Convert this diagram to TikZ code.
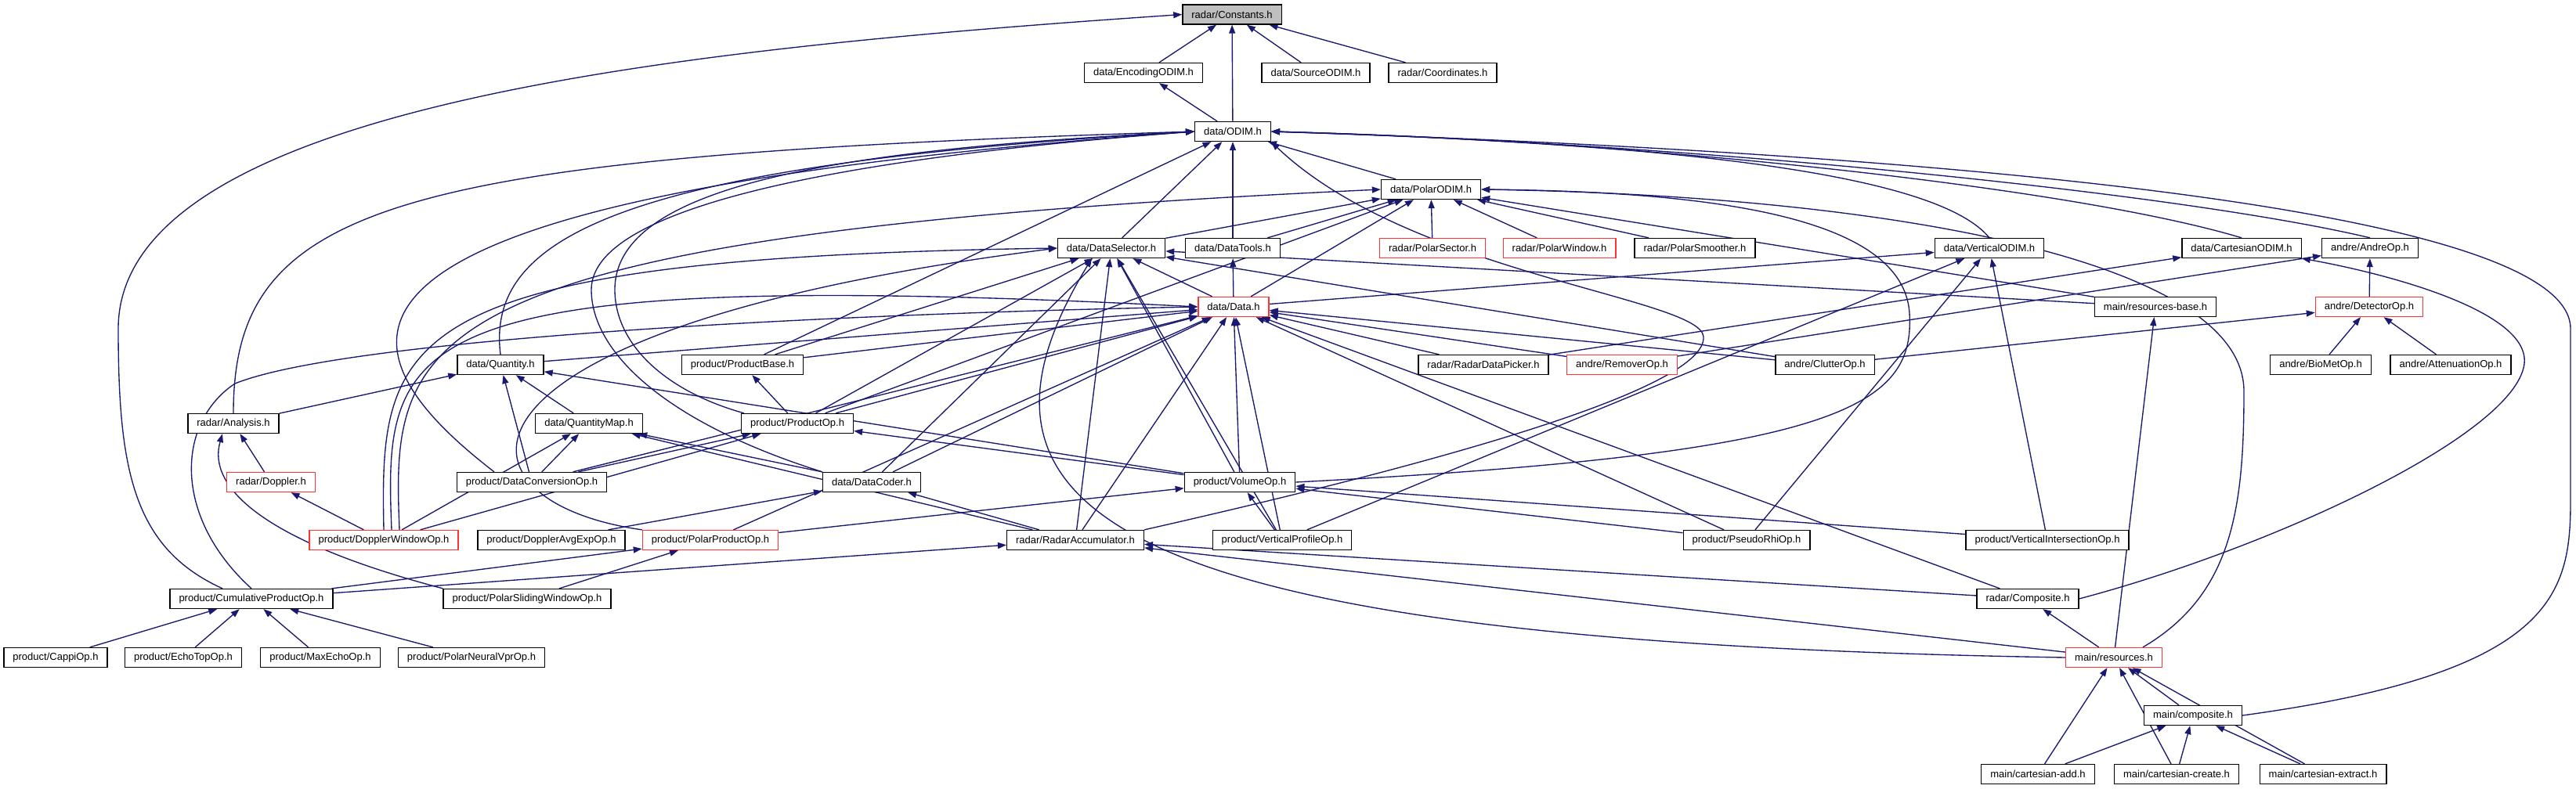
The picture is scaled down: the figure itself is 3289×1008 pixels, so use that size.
\documentclass[tikz,border=0pt]{standalone}
\usepackage{fontspec}
\setmainfont{Liberation Sans}
\usetikzlibrary{arrows.meta, backgrounds}
\definecolor{EdgeBlue}{rgb}{0.1, 0.1, 0.44}
\definecolor{NodeRed}{rgb}{1, 0.2, 0.2}
\definecolor{RootGrey}{rgb}{0.75, 0.75, 0.75}

\begin{document}
\begin{tikzpicture}[
    x=1pt, y=-1pt,
    font=\fontsize{13}{15}\selectfont,
    hdr/.style={draw=black, line width=1.3pt, fill=white, minimum height=25pt,
        inner xsep=11.5pt, inner ysep=0pt},
    hdrred/.style={hdr, draw=NodeRed},
    hdrroot/.style={hdr, fill=RootGrey},
    dep/.style={-{Triangle[length=11pt, width=8pt]}, line width=1.35pt, EdgeBlue},
]
\useasboundingbox (0,0) rectangle (3289,1008);

% --- rangos 0-2 ---
\node[hdrroot] (constants) at (1573,18.5) {radar/Constants.h};
\node[hdr] (encodingodim) at (1460,93) {data/EncodingODIM.h};
\node[hdr] (sourceodim) at (1680,93) {data/SourceODIM.h};
\node[hdr] (coordinates) at (1842,93) {radar/Coordinates.h};
\node[hdr] (odim) at (1574,168) {data/ODIM.h};

% --- rangos 3-5 ---
\node[hdr] (polarodim) at (1827,242) {data/PolarODIM.h};
\node[hdr] (dataselector) at (1419,317) {data/DataSelector.h};
\node[hdr] (datatools) at (1574,317) {data/DataTools.h};
\node[hdrred] (polarsector) at (1829,317) {radar/PolarSector.h};
\node[hdrred] (polarwindow) at (1991,317) {radar/PolarWindow.h};
\node[hdr] (polarsmoother) at (2164,317) {radar/PolarSmoother.h};
\node[hdr] (verticalodim) at (2540,317) {data/VerticalODIM.h};
\node[hdr] (cartesianodim) at (2862,317) {data/CartesianODIM.h};
\node[hdr] (andreop) at (3026,317) {andre/AndreOp.h};
\node[hdrred] (data) at (1575,392) {data/Data.h};
\node[hdr] (resourcesbase) at (2752,392) {main/resources-base.h};
\node[hdrred] (detectorop) at (3025,392) {andre/DetectorOp.h};

% --- rangos 6-8 ---
\node[hdr] (quantity) at (639,466) {data/Quantity.h};
\node[hdr] (productbase) at (948,466) {product/ProductBase.h};
\node[hdr] (radardatapicker) at (1894,466) {radar/RadarDataPicker.h};
\node[hdrred] (removerop) at (2071,466) {andre/RemoverOp.h};
\node[hdr] (clutterop) at (2330,466) {andre/ClutterOp.h};
\node[hdr] (biometop) at (2963,466) {andre/BioMetOp.h};
\node[hdr] (attenuationop) at (3129,466) {andre/AttenuationOp.h};
\node[hdr] (analysis) at (298,541) {radar/Analysis.h};
\node[hdr] (quantitymap) at (752,541) {data/QuantityMap.h};
\node[hdr] (productop) at (1018,541) {product/ProductOp.h};
\node[hdrred] (doppler) at (346,616) {radar/Doppler.h};
\node[hdr] (dataconversionop) at (679,616) {product/DataConversionOp.h};
\node[hdr] (datacoder) at (1113,616) {data/DataCoder.h};
\node[hdr] (volumeop) at (1583,616) {product/VolumeOp.h};

% --- rangos 9-10 ---
\node[hdrred] (dopplerwindowop) at (490,690) {product/DopplerWindowOp.h};
\node[hdr] (doppleravgexpop) at (704,690) {product/DopplerAvgExpOp.h};
\node[hdrred] (polarproductop) at (907,690) {product/PolarProductOp.h};
\node[hdr] (radaraccumulator) at (1373,690) {radar/RadarAccumulator.h};
\node[hdr] (verticalprofileop) at (1637,690) {product/VerticalProfileOp.h};
\node[hdr] (pseudorhiop) at (2230,690) {product/PseudoRhiOp.h};
\node[hdr] (verticalintersectionop) at (2614,690) {product/VerticalIntersectionOp.h};
\node[hdr] (cumulativeproductop) at (321,765) {product/CumulativeProductOp.h};
\node[hdr] (polarslidingwindowop) at (673,765) {product/PolarSlidingWindowOp.h};
\node[hdr] (composite) at (2589,765) {radar/Composite.h};

% --- rangos 11-13 ---
\node[hdr] (cappiop) at (71,840) {product/CappiOp.h};
\node[hdr] (echotopop) at (234,840) {product/EchoTopOp.h};
\node[hdr] (maxechoop) at (409,840) {product/MaxEchoOp.h};
\node[hdr] (polarneuralvprop) at (602,840) {product/PolarNeuralVprOp.h};
\node[hdrred] (resources) at (2699,840) {main/resources.h};
\node[hdr] (maincomposite) at (2800,914) {main/composite.h};
\node[hdr] (cartesianadd) at (2602,989) {main/cartesian-add.h};
\node[hdr] (cartesiancreate) at (2779,989) {main/cartesian-create.h};
\node[hdr] (cartesianextract) at (2966,989) {main/cartesian-extract.h};

\begin{pgfonlayer}{background}
% includes directos
\foreach \a/\b in {encodingodim/constants, sourceodim/constants, coordinates/constants,
    odim/constants, odim/encodingodim, polarodim/odim, dataselector/odim,
    dataselector/polarodim, datatools/odim, datatools/polarodim, polarsector/polarodim,
    polarwindow/polarodim, polarsmoother/polarodim,
    data/dataselector, data/datatools, data/polarodim, data/verticalodim,
    resourcesbase/polarodim, resourcesbase/dataselector, detectorop/andreop,
    quantity/data, productbase/odim, productbase/dataselector, productbase/data,
    radardatapicker/data, radardatapicker/cartesianodim, removerop/data, removerop/andreop,
    clutterop/data, clutterop/dataselector, clutterop/detectorop, biometop/detectorop,
    attenuationop/detectorop, analysis/quantity, quantitymap/quantity,
    productop/productbase, productop/data, productop/dataselector, productop/polarodim,
    doppler/analysis, dataconversionop/quantity, dataconversionop/quantitymap,
    dataconversionop/productop, dataconversionop/data,
    datacoder/dataselector, datacoder/data, datacoder/quantitymap,
    volumeop/dataselector, volumeop/data, volumeop/productop, volumeop/quantity,
    dopplerwindowop/doppler, dopplerwindowop/quantitymap, dopplerwindowop/productop,
    doppleravgexpop/datacoder, polarproductop/volumeop, polarproductop/data,
    radaraccumulator/dataselector, radaraccumulator/data,
    radaraccumulator/datacoder, radaraccumulator/quantitymap,
    verticalprofileop/dataselector, verticalprofileop/data, verticalprofileop/volumeop,
    verticalprofileop/verticalodim, pseudorhiop/volumeop, pseudorhiop/data,
    pseudorhiop/verticalodim, verticalintersectionop/volumeop,
    verticalintersectionop/verticalodim, cumulativeproductop/polarproductop,
    cumulativeproductop/radaraccumulator, polarslidingwindowop/polarproductop,
    cappiop/cumulativeproductop, echotopop/cumulativeproductop,
    maxechoop/cumulativeproductop, polarneuralvprop/cumulativeproductop,
    composite/data, composite/radaraccumulator, resources/radaraccumulator,
    resources/composite, resources/resourcesbase, maincomposite/resources,
    cartesianadd/resources, cartesianadd/maincomposite, cartesiancreate/resources,
    cartesiancreate/maincomposite, cartesianextract/resources, cartesianextract/maincomposite}
    \draw[dep] (\a) -- (\b);

% arcos largos, lado izquierdo
\draw[dep] ([xshift=-37pt]cumulativeproductop.north) .. controls (170,700) and (151,600) .. (151,420)
    .. controls (151,130) and (900,60) .. (constants.west);
\draw[dep] (cumulativeproductop.north) .. controls (220,660) and (225,540) .. (300,490)
    .. controls (450,430) and (1100,400) .. (data.west);
\draw[dep] (analysis.north) .. controls (298,260) and (500,200) .. (odim.west);
\draw[dep] (quantity.north) .. controls (620,300) and (800,210) .. (odim.west);
\draw[dep] ([xshift=-48pt]dataconversionop.north) .. controls (394,420) and (400,250) .. (odim.west);
\draw[dep] ([xshift=4pt]productop.north west) .. controls (850,500) and (785,440) .. (785,370)
    .. controls (785,230) and (1100,190) .. (odim.west);
\draw[dep] (datacoder.north west) .. controls (850,540) and (755,450) .. (755,370)
    .. controls (755,260) and (1100,200) .. (odim.west);
\draw[dep] (dopplerwindowop.north) .. controls (485,430) and (500,330) .. (dataselector.west);
\draw[dep] ([xshift=10pt]dopplerwindowop.north) .. controls (490,430) and (505,340) .. (data.west);
\draw[dep] ([xshift=20pt]dopplerwindowop.north) .. controls (500,430) and (510,300) .. (polarodim.west);
\draw[dep] (polarproductop.north west) .. controls (560,640) and (540,420) .. (dataselector.west);
\draw[dep] (polarslidingwindowop.north west) .. controls (330,690) and (265,620) .. ([xshift=-14pt]analysis.south);

% arcos largos, lado derecho
\draw[dep] (radaraccumulator.north east) .. controls (1800,600) and (2180,500) .. (2175,430)
    .. controls (2170,380) and (1800,350) .. (odim.south east);
\draw[dep] (volumeop.east) .. controls (2350,580) and (2445,520) .. (2438,400)
    .. controls (2430,280) and (2200,245) .. (polarodim.east);
\draw[dep] (verticalodim.north) .. controls (2480,230) and (2200,185) .. (odim.east);
\draw[dep] (cartesianodim.north) .. controls (2650,240) and (2100,180) .. (odim.east);
\draw[dep] (andreop.north) .. controls (2800,250) and (2200,185) .. (odim.east);
\draw[dep] (composite.east) .. controls (2900,700) and (3200,560) .. (3222,470)
    .. controls (3240,400) and (3050,350) .. (cartesianodim.south east);
\draw[dep] ([xshift=-25pt]resources.north east) .. controls (2850,760) and (2865,650) .. (2865,500)
    .. controls (2865,330) and (2400,250) .. (polarodim.east);
\draw[dep] (resources.west) .. controls (1400,820) and (1200,650) .. ([xshift=-25pt]dataselector.south);
\draw[dep] (maincomposite.east) .. controls (3260,860) and (3282,760) .. (3282,640)
    -- (3282,420) .. controls (3282,250) and (2300,190) .. (odim.east);
\end{pgfonlayer}

\end{tikzpicture}
\end{document}
